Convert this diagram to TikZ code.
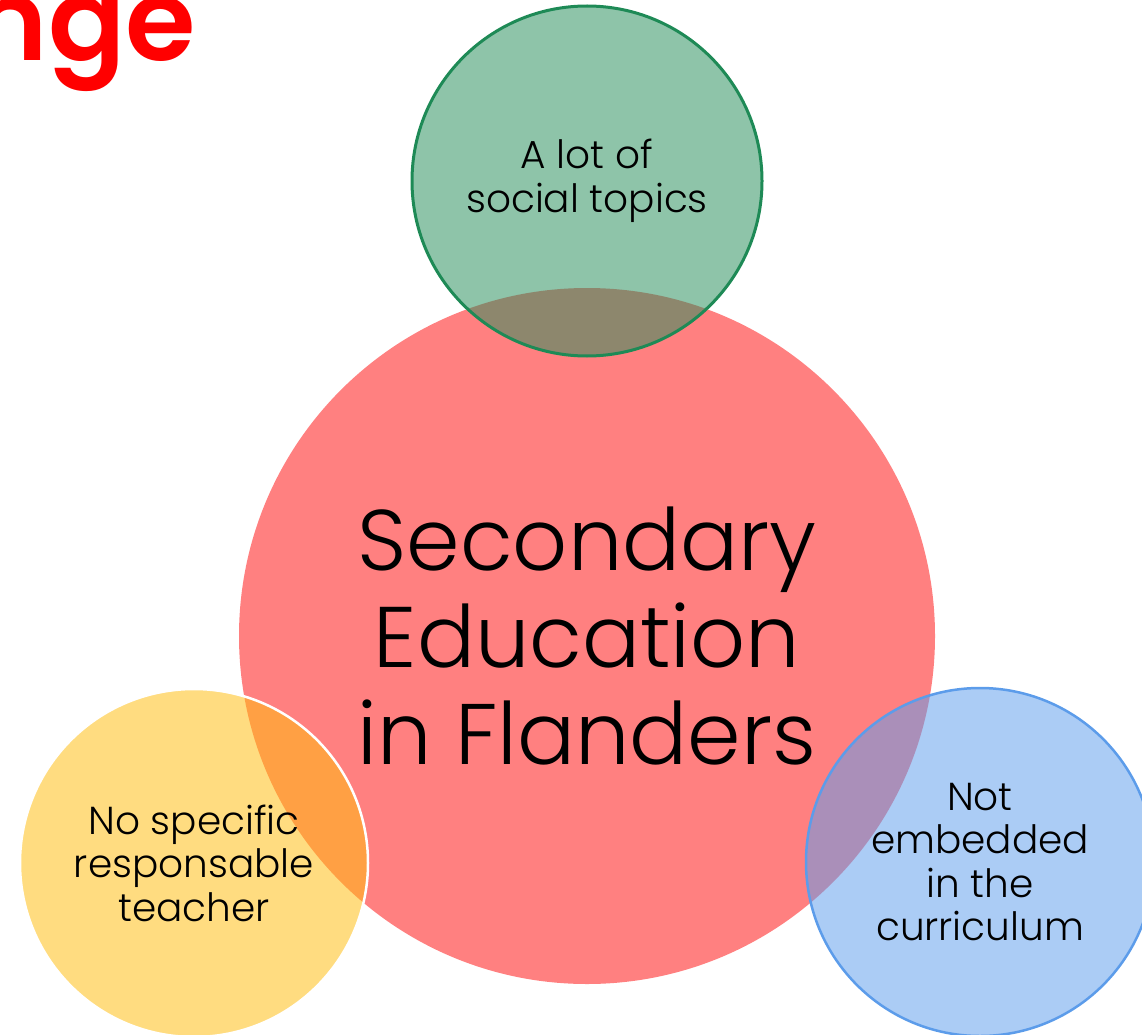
\documentclass[tikz,border=0pt]{standalone}
\usepackage{fontspec}
\setmainfont{Poppins Light}[BoldFont={Poppins SemiBold}]
\usepackage{xcolor}

\definecolor{redfill}{RGB}{255,128,128}
\definecolor{greenfill}{RGB}{41,143,93}
\definecolor{greenline}{RGB}{30,138,86}
\definecolor{yellowfill}{RGB}{255,189,15}
\definecolor{bluefill}{RGB}{96,158,236}
\definecolor{blueline}{RGB}{92,156,234}
\definecolor{titlered}{RGB}{255,0,0}

\begin{document}
\begin{tikzpicture}[
    x=1pt, y=-1pt,
    bubble/.style={circle, inner sep=0pt, align=center, text=black, text opacity=1},
    side/.style={bubble, minimum size=348pt, fill opacity=0.53,
        font=\fontsize{39}{43.5}\selectfont}
]
\useasboundingbox (0,0) rectangle (1142,1035);
\clip (0,0) rectangle (1142,1035);

% Title (cut off)
\node[anchor=base east, inner sep=0pt, text=titlered,
    font=\fontsize{114}{114}\selectfont\bfseries] (title) at (196,61) {nge};

% Main circle
\node[bubble, minimum size=696pt, fill=redfill,
    font=\fontsize{86}{97}\selectfont] (main) at (587,636)
    {Secondary\\Education\\in Flanders};

% Side circles
\node[side, minimum size=350pt, fill=greenfill, draw=greenline, line width=3pt] (topics) at (587,181)
    {A lot of\\social topics};
\node[side, fill=yellowfill, draw=white, line width=2.5pt] (teacher) at (194,863)
    {No specific\\responsable\\teacher};
\node[side, fill=bluefill, draw=blueline, line width=2.5pt] (curriculum) at (980,862)
    {Not\\embedded\\in the\\curriculum};

\end{tikzpicture}
\end{document}
